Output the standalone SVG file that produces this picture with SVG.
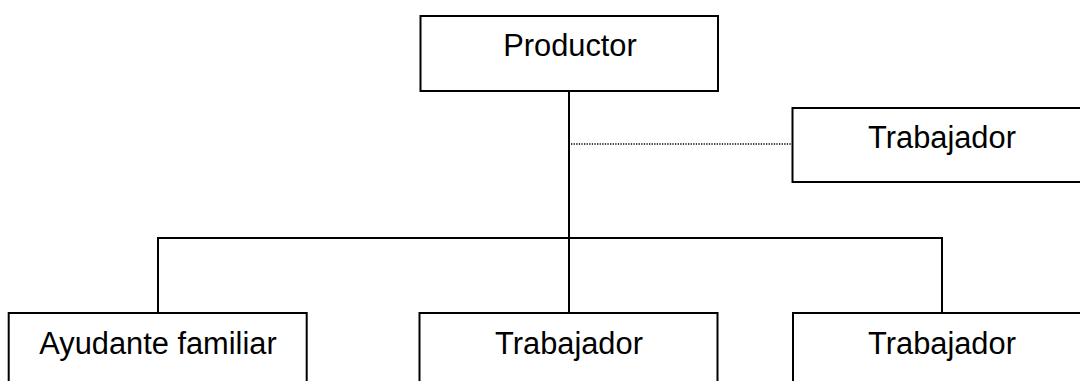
<svg xmlns="http://www.w3.org/2000/svg" width="1080" height="381" viewBox="0 0 1080 381">
<style>
.box{fill:#fff;stroke:#000;stroke-width:2}
.lbl{font-family:"Liberation Sans",Arial,sans-serif;font-size:30.8px;fill:#000;text-anchor:middle}
.ln{stroke:#000;stroke-width:2;fill:none}
.dot{stroke:#000;stroke-width:1.3;stroke-dasharray:1.3,1.3;fill:none}
</style>
<rect width="1080" height="381" fill="#fff"/>
<g id="connectors">
<line class="ln" x1="569" y1="91" x2="569" y2="313"/>
<line class="dot" x1="571" y1="144" x2="792" y2="144"/>
<polyline class="ln" points="158,313 158,238 942,238 942,313"/>
</g>
<g id="productor">
<rect class="box" x="420.5" y="16" width="297.5" height="75"/>
<text class="lbl" x="570" y="55.5">Productor</text>
</g>
<g id="trabajador-lateral">
<rect class="box" x="792.5" y="108" width="300" height="74"/>
<text class="lbl" x="942" y="147.5">Trabajador</text>
</g>
<g id="ayudante">
<rect class="box" x="8.7" y="313" width="298" height="90"/>
<text class="lbl" x="158" y="353.5">Ayudante familiar</text>
</g>
<g id="trabajador-centro">
<rect class="box" x="419.5" y="313" width="298" height="90"/>
<text class="lbl" x="569" y="353.5">Trabajador</text>
</g>
<g id="trabajador-derecha">
<rect class="box" x="793" y="313" width="300" height="90"/>
<text class="lbl" x="942" y="353.5">Trabajador</text>
</g>
</svg>
